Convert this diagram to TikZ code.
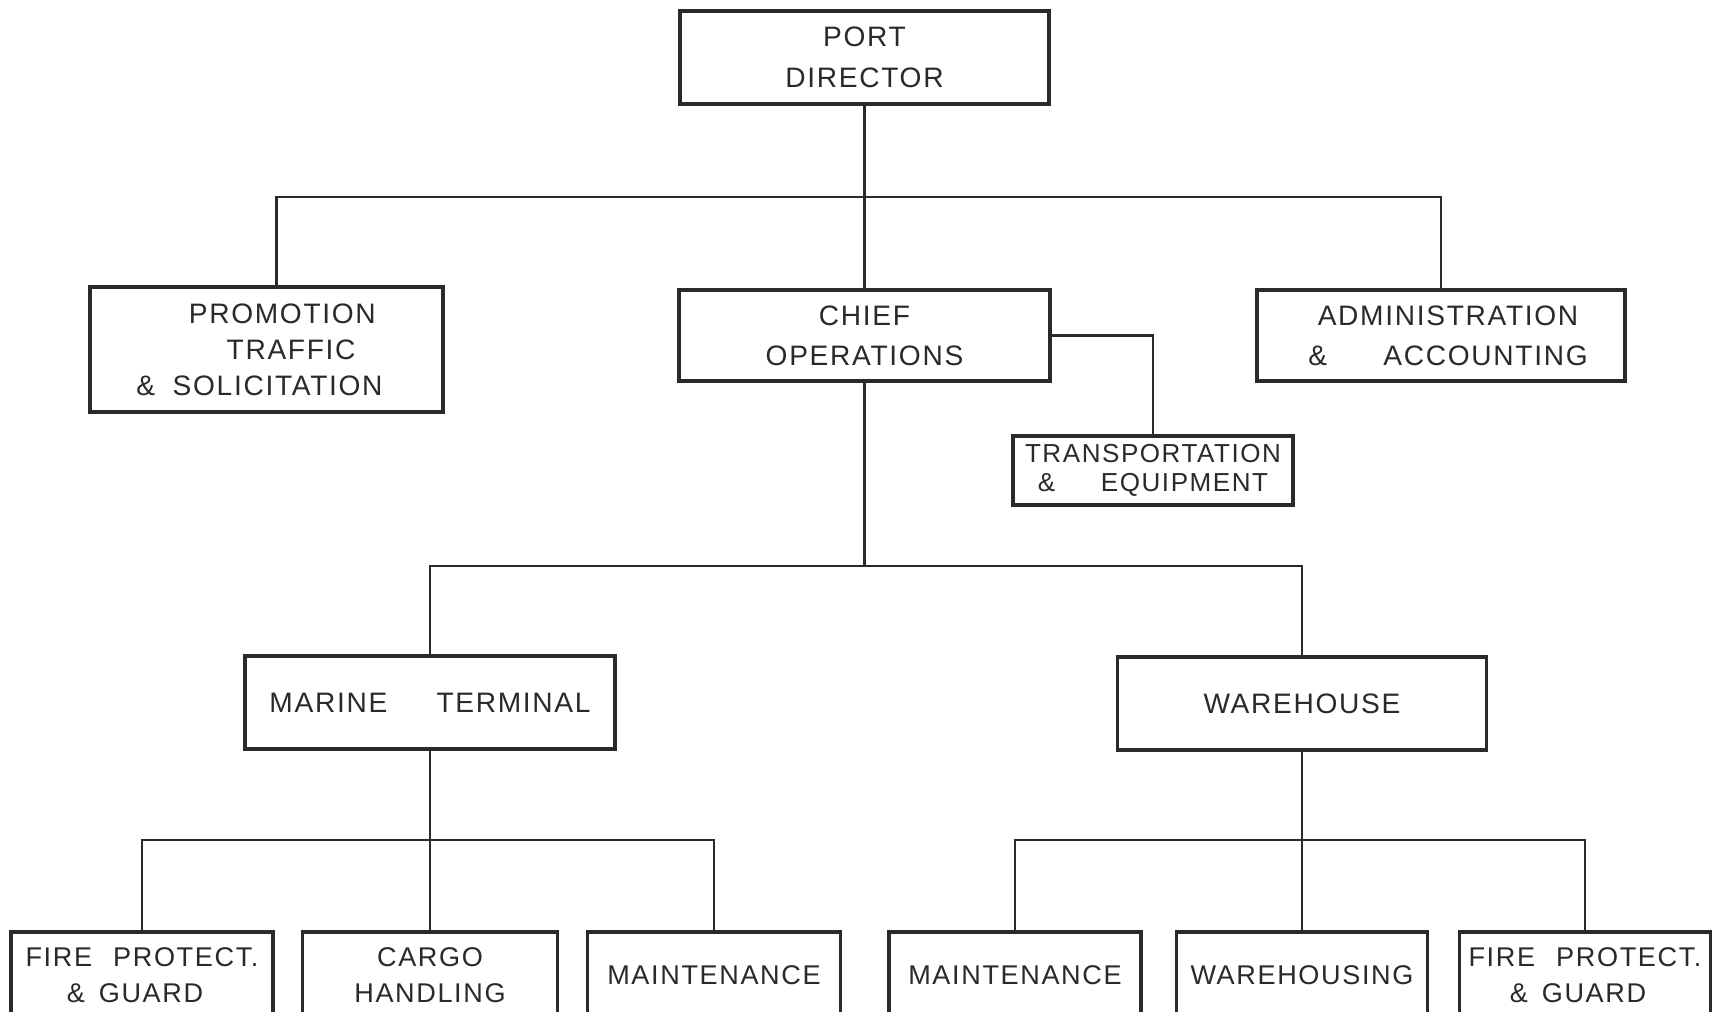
\documentclass[tikz,border=0pt]{standalone}
\usepackage{fontspec}
\setmainfont{Liberation Sans}[LetterSpace=6]
\definecolor{ink}{HTML}{2A2A2A}

\begin{document}
\begin{tikzpicture}[x=0.01cm, y=-0.01cm,
    box/.style 2 args={draw=ink, line width=1pt, text=ink, inner sep=0pt, align=center,
      minimum width=#1cm, minimum height=#2cm, font=\fontsize{8}{11.4}\selectfont},
    link/.style={draw=ink, line width=0.65pt}]
  \useasboundingbox (0,0) rectangle (1714,1012);
  \clip (0,0) rectangle (1714,1012);
  \fill[white] (0,0) rectangle (1714,1012);
  % top level
  \node[box={3.69}{0.93}, font=\fontsize{8}{11.7}\selectfont] (dir) at (864.5,57.5) {PORT\\DIRECTOR};
  \node[box={3.53}{1.25}, font=\fontsize{8}{10.2}\selectfont] (promo) at (266.5,349.5)
    {\hspace*{9pt}PROMOTION\\\hspace*{14pt}TRAFFIC\\\&\hspace{5pt}SOLICITATION\hspace*{4pt}};
  \node[box={3.71}{0.91}] (chief) at (864.5,335.5) {CHIEF\\OPERATIONS};
  \node[box={3.68}{0.91}] (admin) at (1441,335.5)
    {\hspace*{4pt}ADMINISTRATION\\\hspace*{4pt}\&\hspace{16pt}ACCOUNTING};
  \node[box={2.80}{0.69}, font=\fontsize{7.4}{8.3}\selectfont] (trans) at (1153,470.5)
    {TRANSPORTATION\\\&\hspace{13pt}EQUIPMENT};
  % terminals
  \node[box={3.70}{0.93}] (marine) at (430,702.5) {MARINE\hspace{14pt}TERMINAL};
  \node[box={3.69}{0.93}] (ware) at (1302,703.5) {WAREHOUSE};
  % sections
  \tikzset{sect/.style={font=\fontsize{7.7}{10.4}\selectfont}}
  \node[box={2.62}{0.86}, sect] (fireA) at (142,975) {FIRE\hspace{6pt}PROTECT.\\\&\hspace{4pt}GUARD\hspace*{4pt}};
  \node[box={2.55}{0.86}, sect] (cargo) at (430,975) {CARGO\\HANDLING};
  \node[box={2.53}{0.86}, sect] (maintA) at (714,975) {MAINTENANCE};
  \node[box={2.52}{0.86}, sect] (maintB) at (1015,975) {MAINTENANCE};
  \node[box={2.51}{0.86}, sect] (housing) at (1302,975) {WAREHOUSING};
  \node[box={2.51}{0.86}, sect] (fireB) at (1585,975) {FIRE\hspace{6pt}PROTECT.\\\&\hspace{4pt}GUARD\hspace*{4pt}};
  % connectors
  \coordinate (bar1) at (864.5,197);
  \coordinate (bar2) at (864.5,566);
  \coordinate (bar3) at (430,840);
  \coordinate (bar4) at (1302,840);
  \draw[link] (dir.south) -- (chief.north);
  \draw[link] ([xshift=0.1cm]promo.north) |- (bar1) -| (admin.north);
  \draw[link] (chief.east) -| (trans.north);
  \draw[link] (chief.south) -- (bar2);
  \draw[link] (marine.north) |- (bar2) -| (ware.north);
  \draw[link] (marine.south) -- (cargo.north);
  \draw[link] (fireA.north) |- (bar3) -| (maintA.north);
  \draw[link] (ware.south) -- (housing.north);
  \draw[link] (maintB.north) |- (bar4) -| (fireB.north);
\end{tikzpicture}
\end{document}
